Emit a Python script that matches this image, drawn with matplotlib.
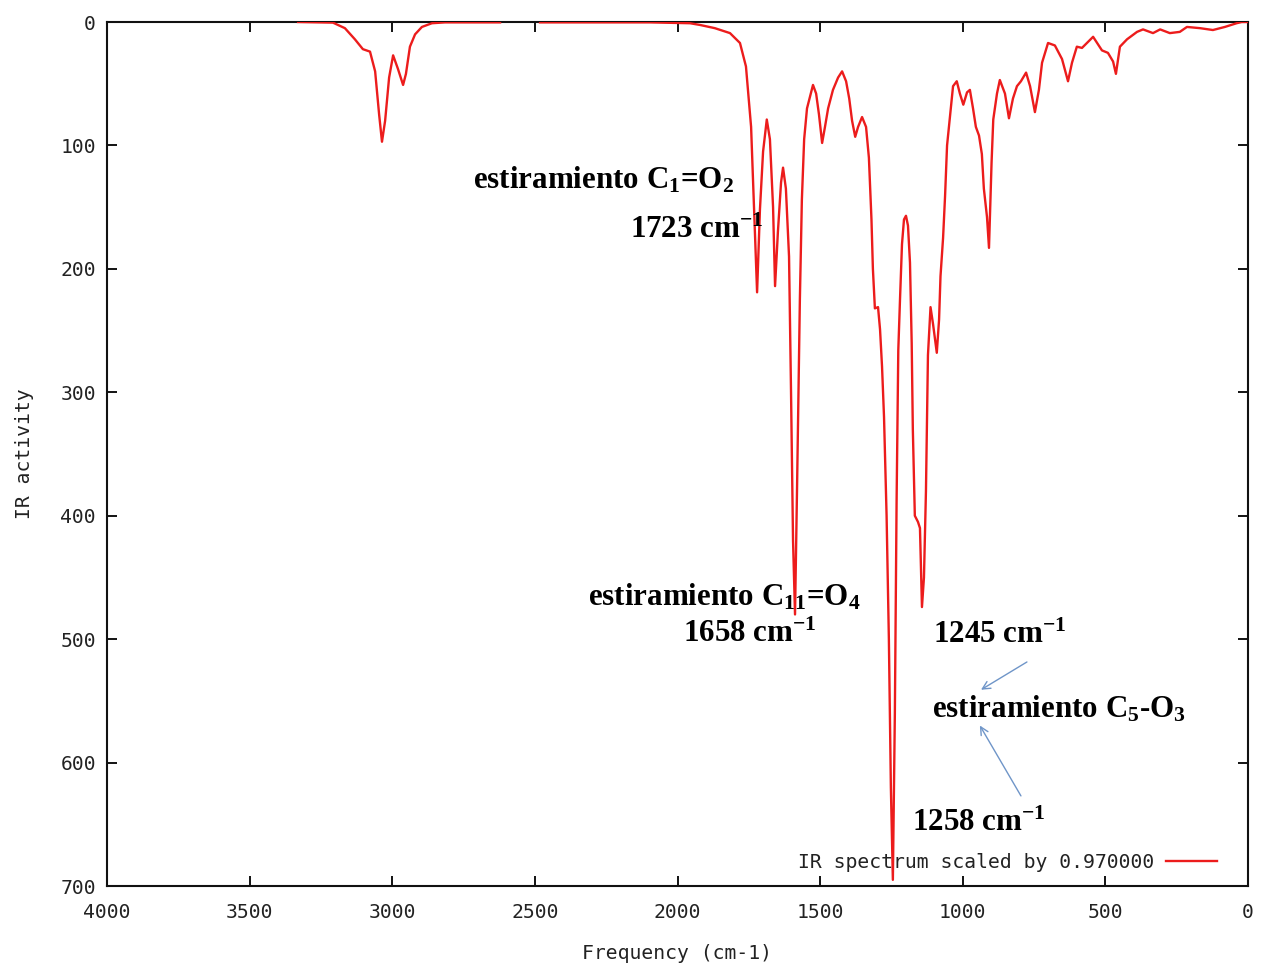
import numpy as np
import matplotlib
matplotlib.use("Agg")
import matplotlib.pyplot as plt
from matplotlib.font_manager import FontProperties

# ---- data ----
freq_high = [3330, 3208, 3166, 3131, 3103, 3078, 3060, 3046, 3036, 3025, 3011, 2997,
             2980, 2962, 2952, 2938, 2920, 2896, 2861, 2815, 2622]
ir_high = [0, 0.5, 5, 14, 22, 24, 40, 75, 97, 80, 45, 27,
           38, 51, 42, 20, 10, 4, 1, 0.3, 0.3]

freq_low = [2482, 2096, 1956, 1921, 1869, 1816, 1781, 1760, 1742, 1732, 1721, 1711, 1700,
            1687, 1676, 1665, 1658, 1648, 1637, 1630, 1620, 1609, 1602, 1595, 1588, 1581,
            1576, 1571, 1564, 1556, 1546, 1535, 1525, 1514, 1504, 1493, 1483, 1472, 1455,
            1437, 1423, 1409, 1398, 1388, 1377, 1367, 1353, 1339, 1329, 1320, 1315, 1308,
            1297, 1290, 1283, 1276, 1267, 1259, 1252, 1245, 1238, 1232, 1226, 1220, 1213,
            1206, 1199, 1192, 1185, 1179, 1175, 1168, 1157, 1150, 1143, 1136, 1129, 1122,
            1113, 1104, 1091, 1083, 1078, 1069, 1062, 1055, 1045, 1034, 1021, 1010, 998,
            985, 975, 964, 954, 943, 933, 926, 915, 908, 899, 893, 880, 870, 852, 838, 824,
            810, 796, 778, 764, 747, 733, 722, 701, 677, 652, 631, 617, 600, 582, 543, 512,
            491, 473, 463, 449, 424, 389, 368, 333, 308, 274, 239, 214, 168, 123, 81, 40,
            22, 0]
ir_low = [0.3, 0.3, 1, 2.4, 5, 9, 17, 36, 85, 150, 219, 152, 105,
          79, 95, 150, 214, 170, 130, 118, 135, 190, 300, 420, 480, 379,
          300, 225, 144, 95, 70, 60, 51, 58, 75, 98, 85, 70, 55,
          45, 40, 48, 62, 80, 93, 85, 77, 85, 110, 160, 200, 232,
          231, 249, 279, 320, 400, 500, 620, 695, 560, 390, 266, 225, 180,
          160, 157, 165, 195, 260, 330, 400, 405, 410, 474, 450, 380, 270,
          231, 245, 268, 241, 206, 175, 141, 100, 77, 52, 48, 58, 67,
          57, 55, 70, 85, 92, 107, 135, 158, 183, 114, 79, 58, 47, 58, 78, 62,
          52, 48, 41, 52, 73, 55, 33, 17, 19, 30, 48, 33, 20, 21, 12, 23,
          25, 32, 42, 20, 14, 8, 6, 9, 6, 9, 8, 4, 5, 6.5, 4, 1,
          0, 0]

x_ticks = [4000, 3500, 3000, 2500, 2000, 1500, 1000, 500, 0]
y_ticks = [0, 100, 200, 300, 400, 500, 600, 700]
legend_label = "IR spectrum scaled by 0.970000"

# ---- style ----
plt.rcParams['mathtext.default'] = 'regular'
mono = FontProperties(family='DejaVu Sans Mono', size=14.2)
serif = FontProperties(family='Liberation Serif', weight='bold', size=22.3)
red = '#ec1c1c'
txt_col = '#222222'

fig = plt.figure(figsize=(12.61, 9.66), dpi=100)
ax = fig.add_axes([107/1261, 1-886/966, (1248-107)/1261, (886-22)/966])

freqs = np.array(freq_high + [np.nan] + freq_low, dtype=float)
vals = np.array(ir_high + [np.nan] + ir_low, dtype=float)
ax.plot(freqs, vals, color=red, lw=1.7, label=legend_label, zorder=3)

ax.set_xlim(4000, 0)
ax.set_ylim(700, 0)
ax.set_xticks(x_ticks)
ax.set_yticks(y_ticks)
ax.set_xticklabels([str(t) for t in x_ticks], fontproperties=mono, color=txt_col)
ax.set_yticklabels([str(t) for t in y_ticks], fontproperties=mono, color=txt_col)
ax.tick_params(direction='in', length=7, width=1.3, top=True, right=True)
ax.tick_params(axis='y', pad=8)
ax.tick_params(axis='x', pad=12)
for s in ax.spines.values():
    s.set_linewidth(1.5)
    s.set_color('#111111')

ax.set_xlabel("Frequency (cm-1)", fontproperties=mono, color=txt_col, labelpad=16)
ax.set_ylabel("IR activity", fontproperties=mono, color=txt_col, labelpad=19)

leg = ax.legend(loc='lower right', frameon=False, markerfirst=False, prop=mono,
                handlelength=2.6, handletextpad=0.6, borderaxespad=0.3,
                bbox_to_anchor=(0.985, 0.0))
for t in leg.get_texts():
    t.set_color(txt_col)

# ---- annotations ----
ax.text(2717, 128, "estiramiento C$_1$=O$_2$", fontproperties=serif, ha='left', va='center')
ax.text(2167, 168.5, "1723 cm$^{-1}$", fontproperties=serif, ha='left', va='center')
ax.text(2314, 466, "estiramiento C$_{11}$=O$_4$", fontproperties=serif, ha='left', va='center')
ax.text(1981, 496, "1658 cm$^{-1}$", fontproperties=serif, ha='left', va='center')
ax.text(1104, 497, "1245 cm$^{-1}$", fontproperties=serif, ha='left', va='center')
ax.text(1108, 557, "estiramiento C$_5$-O$_3$", fontproperties=serif, ha='left', va='center')
ax.text(1178, 649, "1258 cm$^{-1}$", fontproperties=serif, ha='left', va='center')

arrow_kw = dict(arrowstyle='->', color='#6f95c8', lw=1.0, shrinkA=0, shrinkB=0,
                mutation_scale=14)
ax.annotate("", xy=(936, 541), xytext=(775, 518.5), arrowprops=arrow_kw)
ax.annotate("", xy=(940, 570), xytext=(796, 627), arrowprops=arrow_kw)

fig.savefig("out.png", dpi=100)
